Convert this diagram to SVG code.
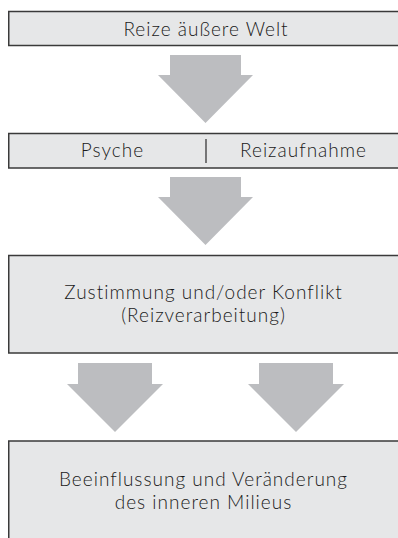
<svg xmlns="http://www.w3.org/2000/svg" width="398" height="538" viewBox="0 0 398 538">
<style>
.box{fill:#e6e7e8;stroke:#3a3a3a;stroke-width:1.5}
.arr{fill:#bcbdc0}
text{font-family:Lato,"Liberation Sans",sans-serif;font-size:19px;font-weight:300;letter-spacing:1px;fill:#1a1a1a;text-anchor:middle}
</style>
<rect width="398" height="538" fill="#ffffff"/>
<g id="connectors">
<polygon class="arr" points="170,55 241,55 241,75 253,75 205.5,123 158,75 170,75"/>
<polygon class="arr" points="170,177 241,177 241,197 253,197 205.5,245 158,197 170,197"/>
<polygon class="arr" points="78,363 152,363 152,384 163,384 115,432 67,384 78,384"/>
<polygon class="arr" points="259,363 333,363 333,384 344,384 296,432 248,384 259,384"/>
</g>
<g id="reize">
<rect class="box" x="8.75" y="11.5" width="410" height="34"/>
<text x="206" y="36">Reize äußere Welt</text>
</g>
<g id="psyche">
<rect class="box" x="8.75" y="133.5" width="410" height="34.5"/>
<line x1="206" y1="139" x2="206" y2="163" stroke="#2b2b2b" stroke-width="1.2"/>
<text x="112.5" y="157">Psyche</text>
<text x="303.5" y="157">Reizaufnahme</text>
</g>
<g id="zustimmung">
<rect class="box" x="8.75" y="255.5" width="410" height="97.5"/>
<text x="203.5" y="299">Zustimmung und/oder Konflikt</text>
<text x="203.5" y="322">(Reizverarbeitung)</text>
</g>
<g id="beeinflussung">
<rect class="box" x="8.75" y="441" width="410" height="110"/>
<text x="203.5" y="486">Beeinflussung und Veränderung</text>
<text x="203.5" y="509">des inneren Milieus</text>
</g>
</svg>
